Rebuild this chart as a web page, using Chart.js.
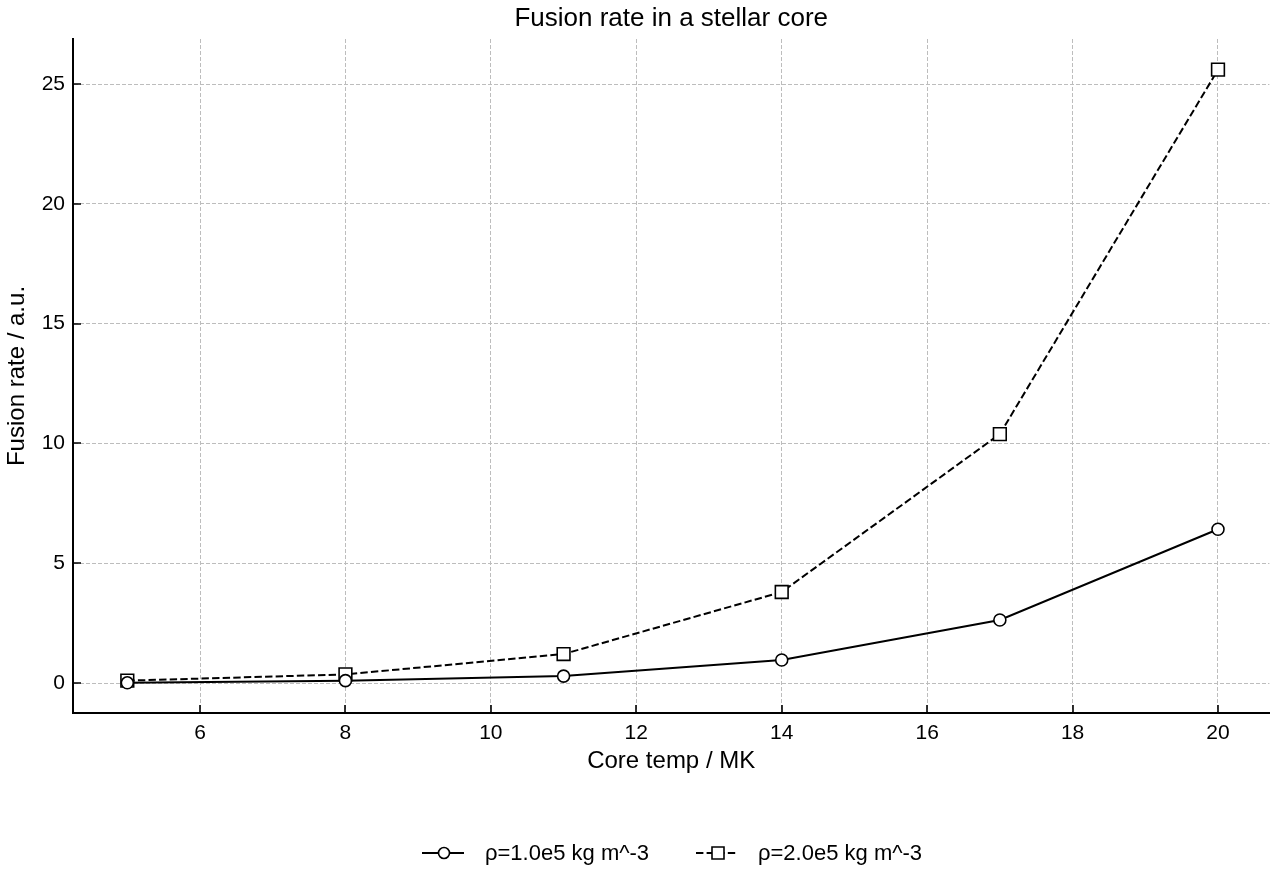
<!DOCTYPE html>
<html><head><meta charset="utf-8">
<script src="https://cdn.jsdelivr.net/npm/chart.js@4/dist/chart.umd.min.js"></script>
<style>html,body{margin:0;padding:0;background:#fff;overflow:hidden}#wrap{width:1280px;height:880px}</style>
</head><body><div id="wrap"><canvas id="c"></canvas></div>
<script>
const temps = [5, 8, 11, 14, 17, 20];
const rateLow = [0.01, 0.1, 0.29, 0.96, 2.63, 6.42];
const rateHigh = [0.1, 0.36, 1.21, 3.8, 10.39, 25.6];
const seriesNames = ['ρ=1.0e5 kg m^-3', 'ρ=2.0e5 kg m^-3'];
const xTicks = [6, 8, 10, 12, 14, 16, 18, 20];
const yTicks = [0, 5, 10, 15, 20, 25];
const FONT = '"Liberation Sans", Arial, Helvetica, sans-serif';

const centerTitle = {
  id: 'centerTitle',
  beforeDraw(chart) {
    const t = chart.titleBlock, a = chart.chartArea;
    if (t) { t.left = a.left; t.right = a.right; t.width = a.right - a.left; }
  }
};

const inwardTicks = {
  id: 'inwardTicks',
  afterDraw(chart) {
    const ctx = chart.ctx, a = chart.chartArea, x = chart.scales.x, y = chart.scales.y;
    ctx.save();
    ctx.setLineDash([]);
    ctx.strokeStyle = '#000'; ctx.lineWidth = 1.6;
    ctx.beginPath();
    xTicks.forEach(v => { const px = Math.round(x.getPixelForValue(v)); ctx.moveTo(px, a.bottom); ctx.lineTo(px, a.bottom - 8); });
    yTicks.forEach(v => { const py = Math.round(y.getPixelForValue(v)); ctx.moveTo(a.left, py); ctx.lineTo(a.left + 8, py); });
    ctx.stroke();
    ctx.restore();
  }
};

const lineLegend = {
  id: 'lineLegend',
  afterDraw(chart) {
    const ctx = chart.ctx;
    const items = [{x: 422, tx: 485}, {x: 696, tx: 758}];
    const yy = 853;
    ctx.save();
    chart.data.datasets.forEach((ds, i) => {
      const it = items[i];
      ctx.strokeStyle = '#000'; ctx.lineWidth = 2;
      ctx.setLineDash(ds.borderDash || []);
      ctx.beginPath(); ctx.moveTo(it.x, yy); ctx.lineTo(it.x + 42, yy); ctx.stroke();
      ctx.setLineDash([]);
      ctx.fillStyle = '#fff'; ctx.strokeStyle = '#000'; ctx.lineWidth = 1.6;
      ctx.beginPath();
      if (ds.pointStyle === 'circle') ctx.arc(it.x + 22, yy, 5.5, 0, Math.PI * 2);
      else ctx.rect(it.x + 22 - 6, yy - 6, 12, 12);
      ctx.fill(); ctx.stroke();
      ctx.fillStyle = '#000'; ctx.font = '22px ' + FONT; ctx.textBaseline = 'middle'; ctx.textAlign = 'left';
      ctx.fillText(ds.label, it.tx, yy + 1);
    });
    ctx.restore();
  }
};

new Chart(document.getElementById('c'), {
  type: 'line',
  data: {
    labels: temps,
    datasets: [
      {label: seriesNames[0], data: temps.map((t, i) => ({x: t, y: rateLow[i]})), borderColor: '#000', borderWidth: 2,
       pointStyle: 'circle', pointRadius: 6, pointBackgroundColor: '#fff', pointBorderColor: '#000', pointBorderWidth: 1.6, tension: 0},
      {label: seriesNames[1], data: temps.map((t, i) => ({x: t, y: rateHigh[i]})), borderColor: '#000', borderWidth: 2, borderDash: [7.4, 3.2],
       pointStyle: 'rect', pointRadius: 9, pointBackgroundColor: '#fff', pointBorderColor: '#000', pointBorderWidth: 1.6, tension: 0}
    ]
  },
  options: {
    responsive: true, maintainAspectRatio: false, animation: false,
    layout: {padding: {top: 0, right: 8, bottom: 80, left: 0}},
    plugins: {
      legend: {display: false}, tooltip: {enabled: false},
      title: {display: true, text: 'Fusion rate in a stellar core', color: '#000', font: {family: FONT, size: 26, weight: 'normal'}, padding: {top: 3.5, bottom: 4.3}}
    },
    scales: {
      x: {
        type: 'linear', min: 4.253, max: 20.707,
        afterBuildTicks: s => { s.ticks = xTicks.map(v => ({value: v})); },
        afterFit: s => { s.height = 87; s.paddingLeft = 0; s.paddingRight = 0; },
        grid: {color: '#bdbdbd', lineWidth: 1, drawTicks: false},
        border: {display: true, color: '#000', width: 2, dash: [4, 2]},
        ticks: {color: '#000', font: {family: FONT, size: 21}, padding: 7.4},
        title: {display: true, text: 'Core temp / MK', color: '#000', font: {family: FONT, size: 24}, padding: {top: 0, bottom: 24.6}}
      },
      y: {
        type: 'linear', min: -1.25, max: 26.88,
        afterBuildTicks: s => { s.ticks = yTicks.map(v => ({value: v})); },
        afterFit: s => { s.width = 73; s.paddingTop = 0; s.paddingBottom = 0; },
        grid: {color: '#bdbdbd', lineWidth: 1, drawTicks: false},
        border: {display: true, color: '#000', width: 2, dash: [4, 2]},
        ticks: {color: '#000', font: {family: FONT, size: 21}, padding: 8},
        title: {display: true, text: 'Fusion rate / a.u.', color: '#000', font: {family: FONT, size: 24}, padding: {top: 2.5, bottom: 0}}
      }
    }
  },
  plugins: [centerTitle, inwardTicks, lineLegend]
});
</script></body></html>
